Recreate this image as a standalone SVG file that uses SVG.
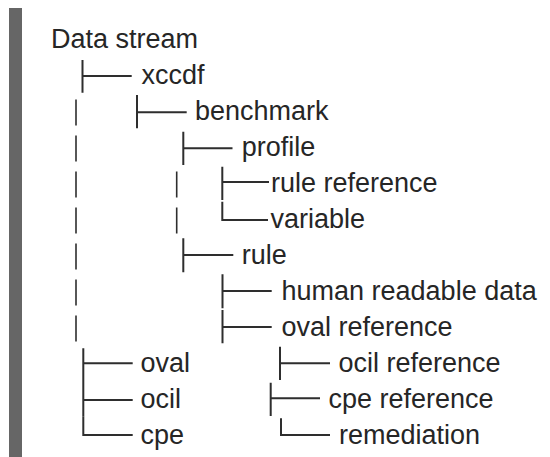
<svg xmlns="http://www.w3.org/2000/svg" width="550" height="457" viewBox="0 0 550 457">
<style>
  .t { font-family: "Liberation Sans", Arial, sans-serif; font-size: 27px; fill: #262626; }
  .c { stroke: #2e2e2e; stroke-width: 2; fill: none; }
  .p { stroke: #2e2e2e; stroke-width: 1.6; fill: none; }
</style>
<rect x="9" y="8" width="13" height="449" fill="#666"/>
<g id="connectors">
  <path class="p" d="M76 99.5V125.5M76 135.5V161.5M76 171.5V197.5M76 207.5V233.5M76 243.5V269.5M76 279.5V305.5M76 315.5V341.5"/>
  <path class="p" d="M176.7 171.5V197.5M176.7 207.5V233.5"/>
  <path class="c" d="M82.5 60V92.7M82.5 76H131.7"/>
  <path class="c" d="M137 95V128.3M137 112.3H186.7"/>
  <path class="c" d="M183.3 131.7V165M183.3 148.3H232.5"/>
  <path class="c" d="M222.3 166.7V200M222.3 182H269"/>
  <path class="c" d="M222.3 201.7V220H268"/>
  <path class="c" d="M183.3 238.3V272.3M183.3 255H233.3"/>
  <path class="c" d="M222.5 274.3V308.3M222.5 291H271.7"/>
  <path class="c" d="M222.5 310V343.3M222.5 327H271.7"/>
  <path class="c" d="M83.3 348.3V381M83.3 363.3H132.7"/>
  <path class="c" d="M280 346.7V380M280 363.3H330"/>
  <path class="c" d="M83.3 381V416.7M83.3 400H132.7"/>
  <path class="c" d="M270.7 382.7V416M270.7 398.3H320"/>
  <path class="c" d="M83.3 416.7V435H132.7"/>
  <path class="c" d="M281 418.3V435H330"/>
</g>
<g id="datastream"><text class="t" x="51" y="48">Data stream</text></g>
<g id="xccdf"><text class="t" x="141.5" y="84">xccdf</text></g>
<g id="benchmark"><text class="t" x="195" y="120">benchmark</text></g>
<g id="profile"><text class="t" x="241.7" y="156">profile</text></g>
<g id="rulereference"><text class="t" x="271" y="192">rule reference</text></g>
<g id="variable"><text class="t" x="270.5" y="228">variable</text></g>
<g id="rule"><text class="t" x="241.7" y="264">rule</text></g>
<g id="humanreadabledata"><text class="t" x="281.5" y="300">human readable data</text></g>
<g id="ovalreference"><text class="t" x="281.5" y="336">oval reference</text></g>
<g id="oval"><text class="t" x="140.5" y="372">oval</text></g>
<g id="ocilreference"><text class="t" x="338.5" y="372">ocil reference</text></g>
<g id="ocil"><text class="t" x="140.5" y="408">ocil</text></g>
<g id="cpereference"><text class="t" x="328.5" y="408">cpe reference</text></g>
<g id="cpe"><text class="t" x="140.5" y="444">cpe</text></g>
<g id="remediation"><text class="t" x="339" y="444">remediation</text></g>
</svg>
